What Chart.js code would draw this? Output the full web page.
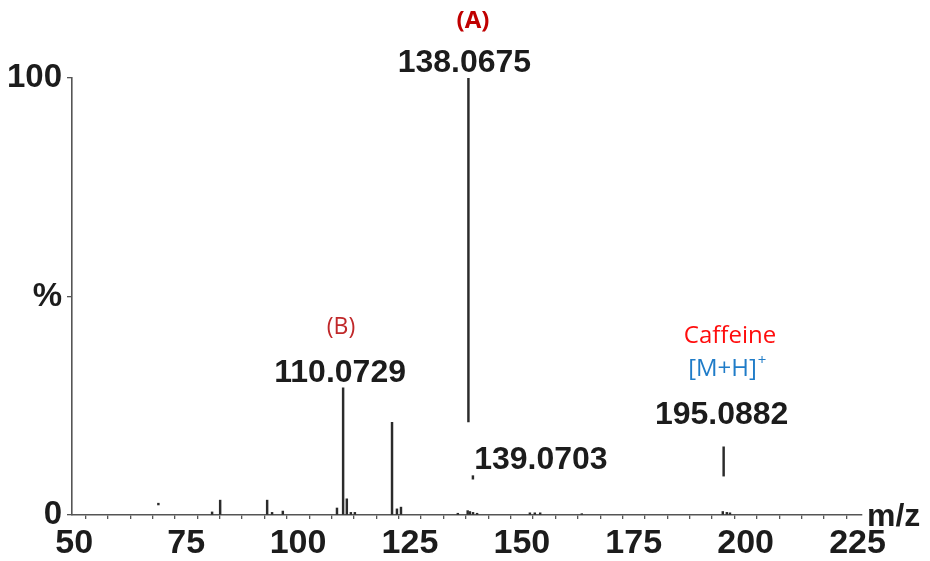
<!DOCTYPE html>
<html>
<head>
<meta charset="utf-8">
<script src="https://cdn.jsdelivr.net/npm/chart.js@4/dist/chart.umd.min.js"></script>
<style>
  html, body { margin: 0; padding: 0; background: #fff; }
  #wrap { width: 930px; height: 561px; position: relative; }
</style>
</head>
<body>
<div id="wrap"><canvas id="ms" width="930" height="561"></canvas></div>
<script>
// Centroid peaks rising from the baseline (m/z, relative intensity %)
const peakMz        = [80.8, 82.6, 93.1, 94.2, 96.6, 108.7, 110.0729, 110.9, 111.8, 112.7,
                       121.0, 122.1, 123.0, 135.7, 137.9, 138.4, 139.1, 140.0,
                       151.8, 152.9, 154.1, 163.4, 194.9, 195.8, 196.5];
const peakIntensity = [0.7, 3.4, 3.4, 0.6, 0.9, 1.6, 29.1, 3.7, 0.6, 0.6,
                       21.2, 1.4, 1.8, 0.4, 1.0, 0.8, 0.6, 0.4,
                       0.5, 0.5, 0.5, 0.3, 0.8, 0.6, 0.5];

// Marker segments (m/z, lower %, upper %)
const segmentMz   = [68.8, 138.0675, 139.0703, 195.0882];
const segmentLow  = [2.3, 21.3, 8.2, 8.9];
const segmentHigh = [2.7, 100, 9.0, 15.6];

// Annotated m/z values
const labelMz   = [138.0675, 110.0729, 195.0882, 139.0703];
const labelText = ['138.0675', '110.0729', '195.0882', '139.0703'];

// Axis ticks
const xTickValues = [50, 55, 60, 65, 70, 75, 80, 85, 90, 95, 100, 105, 110, 115, 120, 125,
                     130, 135, 140, 145, 150, 155, 160, 165, 170, 175, 180, 185, 190, 195,
                     200, 205, 210, 215, 220, 225];
const xTickLabels = ['50', '75', '100', '125', '150', '175', '200', '225'];
const yTickValues = [0, 50, 100];
const yTickLabels = ['0', '%', '100'];

const stickColor = '#2b2b2b';

const annotations = {
  id: 'annotations',
  afterDatasetsDraw(chart) {
    const { ctx, scales: { x, y } } = chart;
    ctx.save();
    ctx.textAlign = 'center';
    ctx.textBaseline = 'middle';

    // m/z labels beside their peaks
    const offsets = { '138.0675': [-4, -15, 100], '110.0729': [-3, -15, 29.1],
                      '195.0882': [-2, -32, 15.6], '139.0703': [68, -15, 9.0] };
    ctx.fillStyle = '#1c1c1c';
    ctx.font = 'bold 32px "Liberation Sans", Arial, sans-serif';
    labelMz.forEach((mz, i) => {
      const o = offsets[labelText[i]];
      ctx.fillText(labelText[i], x.getPixelForValue(mz) + o[0], y.getPixelForValue(o[2]) + o[1]);
    });

    // fragment tags
    ctx.font = 'bold 24px "Open Sans", "Noto Sans", sans-serif';
    ctx.fillStyle = '#c00000';
    ctx.fillText('(A)', 473, 21);
    ctx.font = '23px "Open Sans", "Noto Sans", sans-serif';
    ctx.fillStyle = '#c0282a';
    ctx.fillText('(B)', 341, 327);

    // precursor ion
    ctx.font = '24px "Open Sans", "Noto Sans", sans-serif';
    ctx.fillStyle = '#ff0d0d';
    ctx.fillText('Caffeine', 730, 336);
    ctx.fillStyle = '#1f7cc8';
    ctx.textAlign = 'left';
    const ion = '[M+H]';
    const w = ctx.measureText(ion).width;
    const left = 727 - (w + 9) / 2;
    ctx.fillText(ion, left, 369);
    ctx.font = '15px "Open Sans", "Noto Sans", sans-serif';
    ctx.fillText('+', left + w + 1, 361);

    // axis title
    ctx.font = 'bold 32px "Liberation Sans", Arial, sans-serif';
    ctx.fillStyle = '#1c1c1c';
    ctx.textAlign = 'left';
    ctx.fillText('m/z', 867, 517);
    ctx.restore();
  }
};

new Chart(document.getElementById('ms'), {
  type: 'bar',
  data: {
    datasets: [
      {
        data: peakMz.map((m, i) => ({ x: m, y: peakIntensity[i] })),
        backgroundColor: stickColor,
        barThickness: 1.8,
        grouped: false
      },
      {
        data: segmentMz.map((m, i) => ({ x: m, y: [segmentLow[i], segmentHigh[i]] })),
        backgroundColor: stickColor,
        barThickness: 1.8,
        grouped: false
      }
    ]
  },
  plugins: [annotations],
  options: {
    responsive: false,
    animation: false,
    devicePixelRatio: 1,
    layout: { padding: { top: 78, right: 68, left: 0, bottom: 0 } },
    plugins: { legend: { display: false }, tooltip: { enabled: false } },
    scales: {
      x: {
        type: 'linear',
        min: 49.5,
        max: 226,
        offset: false,
        afterBuildTicks(scale) { scale.ticks = xTickValues.map(v => ({ value: v })); },
        afterFit(scale) { scale.height = 46; },
        ticks: {
          autoSkip: false,
          maxRotation: 0,
          padding: 4,
          color: '#1c1c1c',
          font: { family: '"Liberation Sans", Arial, sans-serif', size: 34, weight: 'bold' },
          callback: v => (v % 25 === 0 ? xTickLabels[(v - 50) / 25] : '')
        },
        grid: { display: true, drawOnChartArea: false, drawTicks: true, tickLength: 4, color: '#555', lineWidth: 1.3 },
        border: { display: true, color: '#555', width: 1.6 }
      },
      y: {
        min: 0,
        max: 100,
        afterBuildTicks(scale) { scale.ticks = yTickValues.map(v => ({ value: v })); },
        afterFit(scale) { scale.width = 72; },
        ticks: {
          padding: 5,
          color: '#1c1c1c',
          font: { family: '"Liberation Sans", Arial, sans-serif', size: 33, weight: 'bold' },
          callback: v => yTickLabels[yTickValues.indexOf(v)]
        },
        grid: { display: true, drawOnChartArea: false, drawTicks: true, tickLength: 5, color: '#555', lineWidth: 1.3 },
        border: { display: true, color: '#555', width: 1.6 }
      }
    }
  }
});
</script>
</body>
</html>
